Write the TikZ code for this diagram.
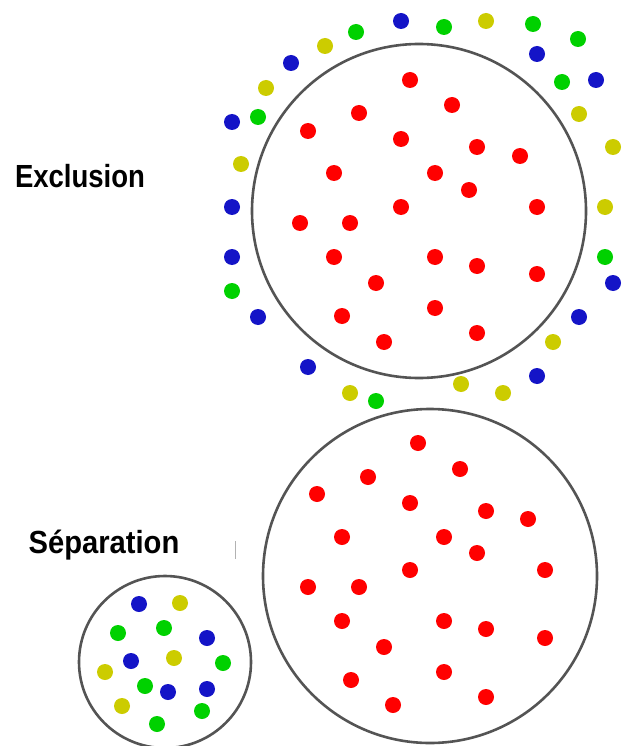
\documentclass[tikz,border=0pt]{standalone}
\usepackage{fontspec}
\usepackage{tikz}
\usetikzlibrary{positioning}
\newfontfamily\labelfont{Liberation Sans}[FakeStretch=0.86]
\tikzset{circ/.style = {fill, circle, inner sep = 0, minimum size = 16}}
\tikzset{ring/.style = {draw = mgray, line width = 2.6}}
\tikzset{title/.style = {anchor = base, font = \labelfont\bfseries\fontsize{32}{32}\selectfont}}
\definecolor{mred}{rgb}{1, 0, 0}
\definecolor{mblue}{rgb}{0.08, 0.08, 0.78}
\definecolor{mgreen}{rgb}{0, 0.82, 0}
\definecolor{myellow}{rgb}{0.8, 0.8, 0}
\definecolor{mgray}{rgb}{0.33, 0.33, 0.33}

\begin{document}
\begin{tikzpicture}[x = 1pt, y = -1pt]
    \useasboundingbox (0, 0) rectangle (626, 746);

    \node [title] (excl) at (80, 187) {Exclusion};
    \node [title, xscale = 1.06] (sep) at (104, 553) {Séparation};

    \draw [ring] (419, 211) circle (167);
    \draw [ring] (430, 576) circle (167);
    \draw [ring] (165, 662) circle (86);
    \draw [gray!60, line width = 1] (235, 541) -- (235, 559);

    % upper circle
    \foreach \x/\y [count = \i] in {410/80, 452/105, 359/113, 308/131, 401/139,
        477/147, 520/156, 334/173, 435/173, 469/190, 401/207, 537/207,
        300/223, 350/223, 334/257, 435/257, 477/266, 537/274, 376/283,
        435/308, 342/316, 477/333, 384/342}
      \node [circ, mred] (a\i) at (\x, \y) {};

    \foreach \x/\y [count = \i] in {401/21, 537/54, 596/80, 291/63, 232/122,
        232/207, 232/257, 258/317, 308/367, 537/376, 579/317, 613/283}
      \node [circ, mblue] (ab\i) at (\x, \y) {};
    \foreach \x/\y [count = \i] in {444/27, 533/24, 578/39, 562/82, 356/32,
        258/117, 232/291, 376/401, 605/257}
      \node [circ, mgreen] (ag\i) at (\x, \y) {};
    \foreach \x/\y [count = \i] in {486/21, 579/114, 613/147, 605/207, 325/46,
        266/88, 241/164, 350/393, 461/384, 503/393, 553/342}
      \node [circ, myellow] (ay\i) at (\x, \y) {};

    % lower circle
    \foreach \x/\y [count = \i] in {418/443, 460/469, 368/477, 317/494, 410/503,
        486/511, 528/519, 342/537, 444/537, 477/553, 410/570, 545/570,
        308/587, 359/587, 342/621, 444/621, 486/629, 545/638, 384/647,
        444/672, 351/680, 393/705, 486/697}
      \node [circ, mred] (b\i) at (\x, \y) {};

    % small circle
    \foreach \x/\y [count = \i] in {139/604, 207/638, 131/661, 168/692, 207/689}
      \node [circ, mblue] (cb\i) at (\x, \y) {};
    \foreach \x/\y [count = \i] in {118/633, 164/628, 223/663, 145/686, 202/711, 157/724}
      \node [circ, mgreen] (cg\i) at (\x, \y) {};
    \foreach \x/\y [count = \i] in {180/603, 174/658, 105/672, 122/706}
      \node [circ, myellow] (cy\i) at (\x, \y) {};
  \end{tikzpicture}
\end{document}
